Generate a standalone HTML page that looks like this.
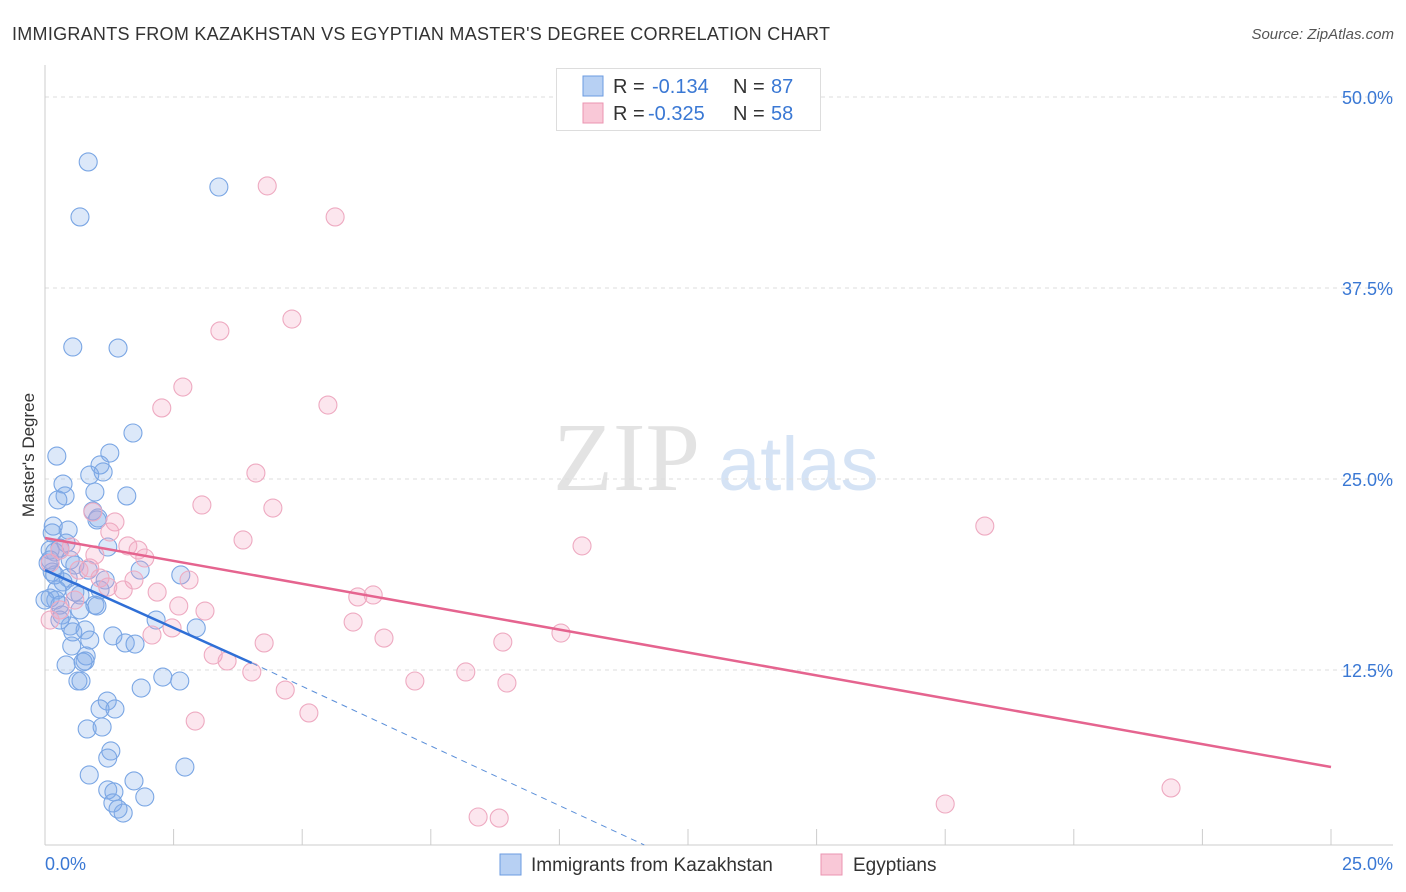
<!DOCTYPE html>
<html><head><meta charset="utf-8"><style>
body{margin:0;background:#fff;width:1406px;height:892px;overflow:hidden;font-family:"Liberation Sans",sans-serif}
svg{position:absolute;left:0;top:0}
</style></head><body>
<svg id="chart" width="1406" height="892">
<text x="12" y="40" font-size="18" fill="#333" textLength="818">IMMIGRANTS FROM KAZAKHSTAN VS EGYPTIAN MASTER'S DEGREE CORRELATION CHART</text>
<text x="1394" y="39" font-size="15" fill="#555" font-style="italic" text-anchor="end">Source: ZipAtlas.com</text>
<g>
<text x="553" y="490" font-family="Liberation Serif,serif" font-size="98" fill="#e3e3e3">ZIP</text>
<text x="718" y="490" font-size="76" fill="#d5e3f5">atlas</text>
</g>
<text transform="translate(34,455) rotate(-90)" font-size="17" fill="#333" text-anchor="middle">Master's Degree</text>
<g id="grid"></g><g id="marks"></g>
<g>
<rect x="556.5" y="68.5" width="264" height="62" fill="#fff" stroke="#ddd"/>
<rect x="583" y="76" width="20" height="20" fill="#b7d0f3" stroke="#6b9be0"/>
<rect x="583" y="103" width="20" height="20" fill="#f9c8d7" stroke="#eb94b1"/>
<text x="613" y="93" font-size="20" fill="#333">R = </text><text x="652" y="93" font-size="20" fill="#3a78d4">-0.134</text>
<text x="733" y="93" font-size="20" fill="#333">N = </text><text x="771" y="93" font-size="20" fill="#3a78d4">87</text>
<text x="613" y="120" font-size="20" fill="#333">R = </text><text x="648" y="120" font-size="20" fill="#3a78d4">-0.325</text>
<text x="733" y="120" font-size="20" fill="#333">N = </text><text x="771" y="120" font-size="20" fill="#3a78d4">58</text>
</g>
<g>
<rect x="500" y="854" width="21" height="21" fill="#b7d0f3" stroke="#6b9be0"/>
<text x="531" y="871" font-size="19" fill="#333">Immigrants from Kazakhstan</text>
<rect x="821" y="854" width="21" height="21" fill="#f9c8d7" stroke="#eb94b1"/>
<text x="853" y="871" font-size="19" fill="#333">Egyptians</text>
</g>
</svg>
<script>
const blueX=[0.84,0.68,3.38,0.54,1.42,1.71,1.26,0.23,1.07,1.13,0.87,0.35,0.97,1.59,0.39,0.25,0.93,1.03,1.01,0.16,0.45,0.14,1.22,0.41,0.29,0.10,0.19,0.06,1.85,2.64,0.14,0.58,0.45,0.35,0.23,0.58,0.10,0.21,0.29,0.97,1.01,0.68,2.16,0.49,0.54,0.78,2.94,1.32,1.56,1.75,0.52,0.80,0.78,0.74,0.41,2.29,2.62,0.64,0.70,1.21,1.36,1.07,0.82,1.11,1.87,1.28,1.22,2.72,0.86,1.73,1.22,1.34,1.32,1.94,1.52,1.42,0.10,0.19,0.33,0.87,1.07,0.00,0.29,0.84,1.17,0.49,0.68];
const blueY=[45.75,42.15,44.11,33.64,33.57,28.01,26.70,26.50,25.92,25.46,25.26,24.67,24.15,23.89,23.89,23.63,22.91,22.45,22.32,21.92,21.66,21.47,20.55,20.81,20.48,20.35,20.22,19.50,19.04,18.72,18.91,19.37,18.52,18.26,17.74,17.60,17.21,17.08,16.75,16.75,16.69,16.43,15.77,15.38,14.99,15.12,15.25,14.73,14.27,14.20,14.07,13.42,13.09,13.02,12.83,12.04,11.78,11.78,11.78,10.47,9.95,9.95,8.64,8.77,11.32,7.20,6.74,6.15,5.63,5.24,4.65,4.52,3.80,4.19,3.14,3.40,19.70,18.72,16.10,14.46,17.74,17.08,15.77,19.04,18.39,19.70,17.41];
const pinkX=[4.32,5.64,4.80,3.40,2.68,2.27,5.50,4.10,3.05,4.43,18.27,1.36,0.93,1.26,0.51,3.85,10.44,1.61,1.81,1.94,0.29,0.10,0.87,1.07,0.66,2.80,1.73,1.52,2.18,1.22,6.08,6.38,2.60,3.11,0.29,0.10,5.99,6.59,2.08,2.47,4.26,8.90,10.03,3.27,3.54,4.02,4.67,7.19,8.18,8.98,5.13,2.92,17.50,21.89,8.42,8.83,0.58,0.97];
const pinkY=[44.18,42.15,35.47,34.69,31.02,29.65,29.84,25.39,23.30,23.10,21.92,22.19,22.84,21.53,20.55,21.01,20.62,20.62,20.35,19.83,20.35,19.50,19.18,18.52,19.04,18.39,18.39,17.74,17.60,17.93,17.28,17.41,16.69,16.36,16.43,15.77,15.64,14.59,14.79,15.25,14.27,14.33,14.92,13.48,13.09,12.37,11.19,11.78,12.37,11.65,9.69,9.16,3.73,4.78,2.88,2.81,17.08,20.03];
const blueTrend=[0,19.04,4.02,12.96,11.65,1.05];
const pinkTrend=[0,21.14,25,6.15];
const yTicks=[12.5,25,37.5,50];
const yTickLabels=["12.5%","25.0%","37.5%","50.0%"];
const xTicks=[0,2.5,5,7.5,10,12.5,15,17.5,20,22.5,25];
const NS="http://www.w3.org/2000/svg";
const X=v=>45+v*1286/25, Y=v=>861-v*191/12.5;
function mk(t,a,p){const e=document.createElementNS(NS,t);for(const k in a)e.setAttribute(k,a[k]);p.appendChild(e);return e;}
const grid=document.getElementById('grid'),marks=document.getElementById('marks');
yTicks.forEach((t,i)=>{
 const l=mk('line',{x1:45,x2:1393,y1:Y(t),y2:Y(t),stroke:'#ddd','stroke-dasharray':'4,4'},grid);
 
 
 const tx=mk('text',{x:1393,y:Y(t)+7,'font-size':18,fill:'#3a78d4','text-anchor':'end'},grid);
 tx.textContent=yTickLabels[i];
 
 
});
mk('line',{x1:45,x2:45,y1:65,y2:845,stroke:'#ccc'},grid);
mk('line',{x1:45,x2:1393,y1:845,y2:845,stroke:'#ccc'},grid);
xTicks.forEach(t=>{
 const l=mk('line',{x1:X(t),x2:X(t),y1:829,y2:845,stroke:'#ccc'},grid);
 
 
});
const x0=mk('text',{x:45,y:870,'font-size':18,fill:'#3a78d4'},grid);x0.textContent='0.0%';


const x1=mk('text',{x:1393,y:870,'font-size':18,fill:'#3a78d4','text-anchor':'end'},grid);x1.textContent='25.0%';


blueX.forEach((v,i)=>{
 const c=mk('circle',{cx:X(v),cy:Y(blueY[i]),r:9,fill:'rgba(130,172,235,0.28)',stroke:'#7aa6e4','stroke-width':1.1},marks);
 
 
});
pinkX.forEach((v,i)=>{
 const c=mk('circle',{cx:X(v),cy:Y(pinkY[i]),r:9,fill:'rgba(245,165,195,0.28)',stroke:'#eeaac1','stroke-width':1.1},marks);
 
 
});
const bl=mk('line',{x1:X(blueTrend[0]),y1:Y(blueTrend[1]),x2:X(blueTrend[2]),y2:Y(blueTrend[3]),stroke:'#2f6fd6','stroke-width':2.5},marks);


const bd=mk('line',{x1:X(blueTrend[2]),y1:Y(blueTrend[3]),x2:X(blueTrend[4]),y2:Y(blueTrend[5]),stroke:'#5b8fd9','stroke-width':1,'stroke-dasharray':'6,5'},marks);


const pl=mk('line',{x1:X(pinkTrend[0]),y1:Y(pinkTrend[1]),x2:X(pinkTrend[2]),y2:Y(pinkTrend[3]),stroke:'#e5648f','stroke-width':2.5},marks);


</script>
</body></html>
